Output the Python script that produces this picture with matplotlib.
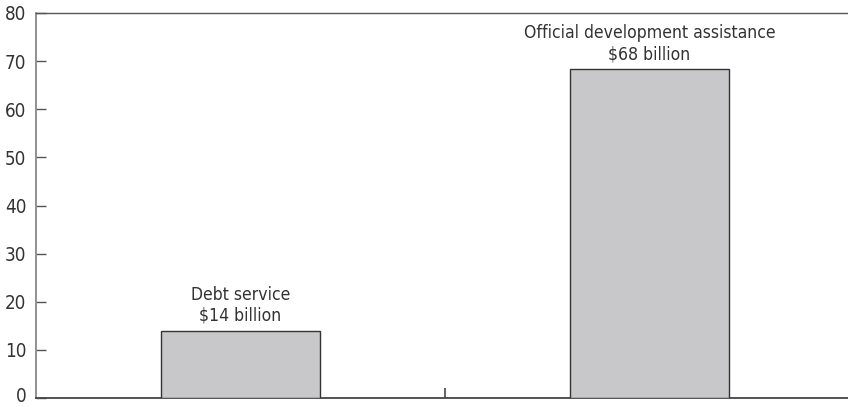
import matplotlib
matplotlib.use("Agg")
import matplotlib.pyplot as plt
import matplotlib.transforms as mtransforms
from matplotlib import font_manager

# data
positions = [0, 1]
values = [14, 68.3]
labels = ["Debt service\n$14 billion", "Official development assistance\n$68 billion"]
yticks = [0, 10, 20, 30, 40, 50, 60, 70, 80]

# look for a narrow face, else plain Liberation Sans
narrow = None
for f in font_manager.fontManager.ttflist:
    low = f.fname.lower()
    if ("narrow" in low or "condensed" in low) and "bold" not in low and "italic" not in low and "oblique" not in low:
        narrow = f.fname
        break
if narrow:
    fp = font_manager.FontProperties(fname=narrow)
    size_lab, size_tick = 12.6, 13.5
else:
    fp = font_manager.FontProperties(family="Liberation Sans")
    size_lab, size_tick = 12, 12.5

W, H = 848, 407
fig = plt.figure(figsize=(W / 100, H / 100), dpi=100)
ax = fig.add_axes([36 / W, 1 - 398 / H, 1 - 36 / W, (398 - 13) / H])

txt = "#333333"
ax.bar(positions, values, width=0.39, color="#c8c8ca", edgecolor="#333333", linewidth=1.0, zorder=3)

for x, v, lab in zip(positions, values, labels):
    ax.annotate(lab, (x, v), xytext=(0, 4.5), textcoords="offset points",
                ha="center", va="bottom", fontproperties=fp, fontsize=size_lab,
                color=txt, linespacing=1.2)

ax.set_xlim(-0.5, 1.485)
ax.set_ylim(0, 80)
ax.set_yticks(yticks)
ax.set_xticks([0.5])
ax.set_xticklabels([""])
ax.tick_params(axis="y", direction="in", length=7, width=1, color="#555555",
               labelcolor=txt, pad=7)
for t in ax.get_yticklabels():
    t.set_fontproperties(fp)
    t.set_fontsize(size_tick)
# nudge the "0" up a little so it stays inside the image
zero = ax.get_yticklabels()[0]
zero.set_transform(zero.get_transform() + mtransforms.ScaledTranslation(0, 3 / 100, fig.dpi_scale_trans))
ax.tick_params(axis="x", direction="in", length=7, width=1.5, color="#666666")

ax.spines["right"].set_visible(False)
ax.spines["left"].set_color("#888888")
ax.spines["left"].set_linewidth(1.3)
ax.spines["bottom"].set_color("#444444")
ax.spines["bottom"].set_linewidth(1.3)
ax.spines["top"].set_color("#555555")
ax.spines["top"].set_linewidth(1.0)

fig.savefig("out.png", dpi=100)
